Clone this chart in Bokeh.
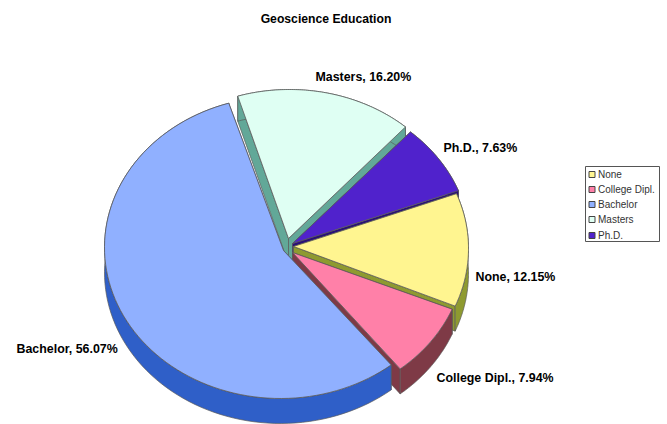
import numpy as np
from bokeh.plotting import figure
from bokeh.models import Range1d
from bokeh.core.properties import value
from bokeh.embed import file_html
from bokeh.resources import INLINE

TITLE = "Geoscience Education"
categories = ["None", "College Dipl.", "Bachelor", "Masters", "Ph.D."]
shares = [12.15, 7.94, 56.07, 16.20, 7.63]

# styling
top_colors = ["#FFF590", "#FF80A8", "#90B0FF", "#DFFFF3", "#5022CC"]
side_colors = ["#8E9A30", "#7E3A46", "#2F5FC8", "#62A898", "#2A1078"]

# layout in page pixels: explosion of each slice
apex_x = [293, 292, 283, 288, 292]
apex_y = [246, 252, 250, 238, 243]
center_x = [292, 289, 280, 289, 294]
center_y = [248, 251, 247, 240, 245]
RX, RY, DEPTH, START = 176, 151, 25, 21.3
draw_order = [3, 4, 0, 1, 2]
label_x = [475, 436, 16, 315, 443]
label_y = [276, 377, 348, 76, 147]

W, H = 667, 424
p = figure(width=W, height=H, output_backend="svg", toolbar_location=None,
           x_range=Range1d(0, W), y_range=Range1d(H, 0),
           min_border=0, outline_line_color=None)
p.axis.visible = False
p.grid.visible = False

total = sum(shares)
ends = START - np.cumsum(shares) / total * 360
starts = np.concatenate([[START], ends[:-1]])
EDGE = "#5a5a5a"


def arc(i):
    t = np.radians(np.linspace(starts[i], ends[i], 90))
    return center_x[i] + RX * np.cos(t), center_y[i] - RY * np.sin(t)


for i in draw_order:
    ax, ay = arc(i)
    ox, oy = apex_x[i], apex_y[i]
    faces = [
        ([ox, ax[0], ax[0], ox], [oy, ay[0], ay[0] + DEPTH, oy + DEPTH]),
        ([ox, ax[-1], ax[-1], ox], [oy, ay[-1], ay[-1] + DEPTH, oy + DEPTH]),
        (list(ax) + list(ax[::-1]), list(ay) + list(ay[::-1] + DEPTH)),
    ]
    for fx, fy in faces:
        p.patch(fx, fy, fill_color=side_colors[i], line_color=EDGE, line_width=0.7)
    p.patch([ox] + list(ax), [oy] + list(ay), fill_color=top_colors[i],
            line_color=EDGE, line_width=0.8)

font = value("Liberation Sans")
p.text([325.5], [18], text=[TITLE], text_font=font, text_font_size="12.2px", text_font_style="bold",
       text_align="center", text_baseline="middle", text_color="#000000")
p.text(label_x, label_y, text=[f"{c}, {s:.2f}%" for c, s in zip(categories, shares)],
       text_font=font, text_font_size="12.4px", text_font_style="bold",
       text_baseline="middle", text_color="#000000")

# legend
p.quad(left=[585], right=[659], top=[166], bottom=[241], fill_color="#FFFFFF",
       line_color="#555555", line_width=1)
rows = [174, 189, 204, 219, 235]
p.rect([591.5] * 5, rows, width=6, height=6, fill_color=top_colors,
       line_color="#444444", line_width=1)
p.text([597.5] * 5, rows, text=categories, text_font=font, text_font_size="10px",
       text_baseline="middle", text_color="#333333")

open("out.html", "w").write(file_html(p, INLINE))
